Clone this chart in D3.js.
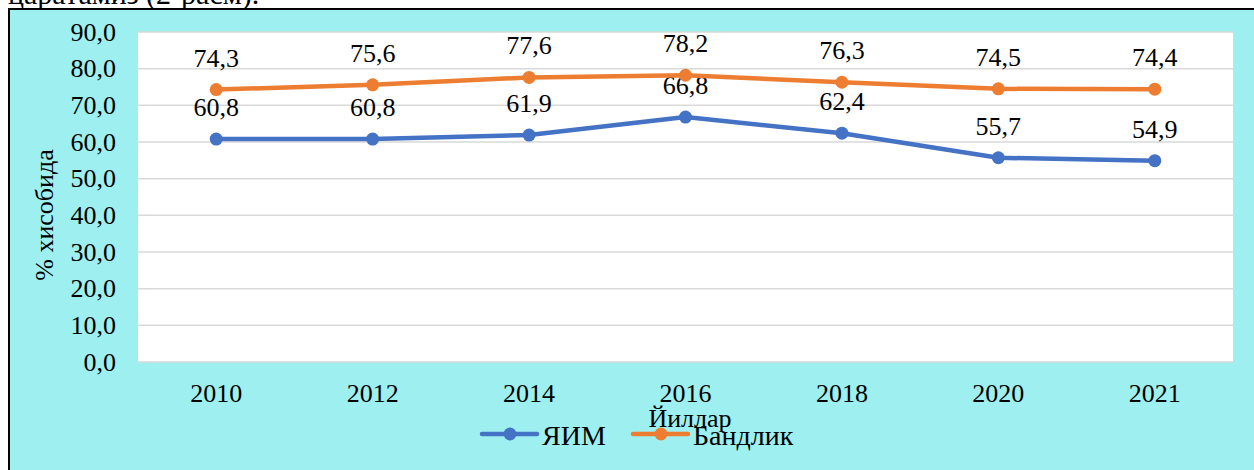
<!DOCTYPE html>
<html>
<head>
<meta charset="utf-8">
<script src="https://cdn.jsdelivr.net/npm/d3@7"></script>
<style>
  body { margin: 0; background: #fff; }
  svg { display: block; font-family: "Liberation Serif", "Times New Roman", serif; }
</style>
</head>
<body>
<svg width="1254" height="470"></svg>
<script>
const years = ["2010", "2012", "2014", "2016", "2018", "2020", "2021"];
const gdp = [60.8, 60.8, 61.9, 66.8, 62.4, 55.7, 54.9];
const employment = [74.3, 75.6, 77.6, 78.2, 76.3, 74.5, 74.4];
const yTickValues = [0, 10, 20, 30, 40, 50, 60, 70, 80, 90];
const seriesNames = ["ЯИМ", "Бандлик"];
const seriesColors = ["#4472C4", "#ED7D31"];

const fmt = v => d3.format(".1f")(v).replace(".", ",");

const svg = d3.select("svg");

// page text cut off above the chart
svg.append("text")
  .attr("x", 8).attr("y", 4)
  .attr("font-size", 30)
  .text("царатамиз (2-расм).");

// chart frame
svg.append("rect")
  .attr("x", 9).attr("y", 9)
  .attr("width", 1260).attr("height", 470)
  .attr("fill", "#9EF0F0")
  .attr("stroke", "#000")
  .attr("stroke-width", 2);

const plotLeft = 138, plotRight = 1233, plotTop = 32, plotBottom = 362;

svg.append("rect")
  .attr("x", plotLeft).attr("y", plotTop)
  .attr("width", plotRight - plotLeft).attr("height", plotBottom - plotTop)
  .attr("fill", "#fff");

const x = d3.scaleBand().domain(years).range([plotLeft, plotRight]);
const y = d3.scaleLinear().domain([0, 90]).range([plotBottom, plotTop]);

// gridlines
svg.append("g")
  .selectAll("line")
  .data(yTickValues)
  .join("line")
  .attr("x1", plotLeft).attr("x2", plotRight)
  .attr("y1", d => y(d)).attr("y2", d => y(d))
  .attr("stroke", "#d9d9d9")
  .attr("stroke-width", 1.5);

// y axis
const yAxis = d3.axisLeft(y).tickValues(yTickValues).tickFormat(fmt).tickSize(0).tickPadding(22);
const yG = svg.append("g")
  .attr("transform", `translate(${plotLeft}, 0)`)
  .call(yAxis);
yG.select(".domain").remove();
yG.selectAll("text").attr("font-size", 26).attr("fill", "#000")
  .attr("font-family", "Liberation Serif");

// x axis
const xAxis = d3.axisBottom(x).tickSize(0).tickPadding(22);
const xG = svg.append("g")
  .attr("transform", `translate(0, ${plotBottom})`)
  .call(xAxis);
xG.select(".domain").remove();
xG.selectAll("text").attr("font-size", 26).attr("fill", "#000")
  .attr("font-family", "Liberation Serif");

// axis titles
svg.append("text")
  .attr("transform", `translate(53, 215) rotate(-90)`)
  .attr("text-anchor", "middle")
  .attr("font-size", 26)
  .text("% хисобида");

svg.append("text")
  .attr("x", 690).attr("y", 427)
  .attr("text-anchor", "middle")
  .attr("font-size", 26)
  .text("Йиллар");

// series
const series = [gdp, employment];
const line = d3.line()
  .x((d, i) => x(years[i]) + x.bandwidth() / 2)
  .y(d => y(d));

series.forEach((vals, s) => {
  const g = svg.append("g");
  g.append("path")
    .datum(vals)
    .attr("d", line)
    .attr("fill", "none")
    .attr("stroke", seriesColors[s])
    .attr("stroke-width", 4.5)
    .attr("stroke-linejoin", "round");
  g.selectAll("circle")
    .data(vals)
    .join("circle")
    .attr("cx", (d, i) => x(years[i]) + x.bandwidth() / 2)
    .attr("cy", d => y(d))
    .attr("r", 6.5)
    .attr("fill", seriesColors[s]);
  g.selectAll("text")
    .data(vals)
    .join("text")
    .attr("x", (d, i) => x(years[i]) + x.bandwidth() / 2)
    .attr("y", d => y(d) - 23)
    .attr("text-anchor", "middle")
    .attr("font-size", 26)
    .text(d => fmt(d));
});

// legend
const legendX = [482, 633];
seriesNames.forEach((name, s) => {
  const g = svg.append("g").attr("transform", `translate(${legendX[s]}, 434)`);
  g.append("line")
    .attr("x1", 0).attr("x2", 55)
    .attr("stroke", seriesColors[s])
    .attr("stroke-width", 4.5)
    .attr("stroke-linecap", "round");
  g.append("circle")
    .attr("cx", 28).attr("r", 6.5)
    .attr("fill", seriesColors[s]);
  g.append("text")
    .attr("x", 60).attr("y", 11)
    .attr("font-size", 28)
    .text(name);
});
</script>
</body>
</html>
